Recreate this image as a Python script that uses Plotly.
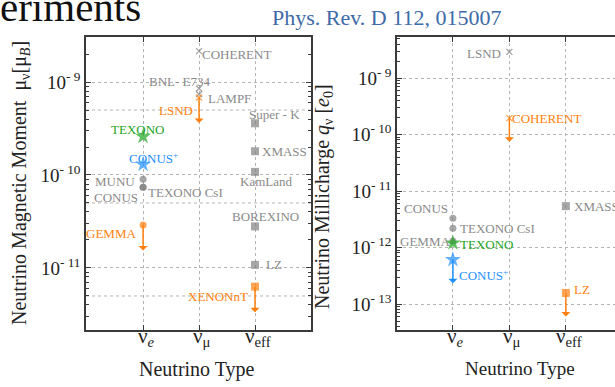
import math
import plotly.graph_objects as go

W, H = 615, 387
FONT = "Liberation Serif, Times New Roman, serif"

# ---------------- data ----------------
flavor_labels = ["ν<sub><i>e</i></sub>", "ν<sub>μ</sub>", "ν<sub>eff</sub>"]
flavor_pos = [1, 2, 3]

# Magnetic moment panel (units of mu_B)
mm_names = ["COHERENT", "BNL- E734", "LAMPF", "LSND", "Super - K", "TEXONO",
            "CONUS<sup>+</sup>", "MUNU", "CONUS", "TEXONO CsI", "GEMMA",
            "XMASS", "KamLand", "BOREXINO", "LZ", "XENONnT"]
mm_flavor = [2, 2, 2, 2, 3, 1, 1, 1, 1, 1, 1, 3, 3, 3, 3, 3]
mm_values = [2.15e-9, 8.5e-10, 7.4e-10, 6.8e-10, 3.6e-10, 2.6e-10,
             1.3e-10, 9.0e-11, 7.4e-11, 7.4e-11, 2.9e-11,
             1.8e-10, 1.08e-10, 2.8e-11, 1.08e-11, 6.3e-12]
mm_style = ["x_grey", "x_grey", "x_grey", "x_orange", "sq_grey", "star_green",
            "star_blue", "circ_grey", "circ_grey", "circ_grey", "circ_orange",
            "sq_grey", "sq_grey", "sq_grey", "sq_grey", "sq_orange"]
mm_limit_arrow = [False, False, False, True, False, False, False, False, False,
                  False, True, False, False, False, False, True]

# Millicharge panel (units of e0)
mc_names = ["LSND", "COHERENT", "CONUS", "TEXONO CsI", "GEMMA", "TEXONO",
            "CONUS<sup>+</sup>", "XMASS", "LZ"]
mc_flavor = [2, 2, 1, 1, 1, 1, 1, 3, 3]
mc_values = [2.9e-9, 1.95e-10, 3.3e-12, 2.2e-12, 1.3e-12, 1.2e-12, 6.1e-13,
             5.4e-12, 1.57e-13]
mc_style = ["x_grey", "x_orange", "circ_grey", "circ_grey", "circ_grey",
            "star_green", "star_blue", "sq_grey", "sq_orange"]
mc_limit_arrow = [False, True, False, False, False, False, True, False, True]

# ---------------- styles ----------------
GREY = "#808080"
LGREY = "#8a8a8a"
ORANGE = "#ff7f0e"
GREEN = "#1ea51e"
BLUE = "#1e8fff"
AX = "#3a3a3a"
GRID = "#b4b4b4"
TXT = "#222222"

STYLE = {
    "x_grey": dict(symbol="x-thin", size=6, color=GREY, lw=1.3, text=LGREY),
    "x_orange": dict(symbol="x-thin", size=6, color=ORANGE, lw=1.3, text=ORANGE),
    "sq_grey": dict(symbol="square", size=8, color=GREY, lw=0, text=LGREY),
    "sq_orange": dict(symbol="square", size=8, color=ORANGE, lw=0, text=ORANGE),
    "circ_grey": dict(symbol="circle", size=7, color=GREY, lw=0, text=LGREY),
    "circ_orange": dict(symbol="circle", size=7, color=ORANGE, lw=0, text=ORANGE),
    "star_green": dict(symbol="star", size=12, color=GREEN, lw=0, text=GREEN),
    "star_blue": dict(symbol="star", size=12, color=BLUE, lw=0, text=BLUE),
}

# label placement (xanchor, xshift, yshift) in pixels relative to marker
mm_label_pos = [("left", 1, -3), ("center", -19, 7), ("left", 7, -4), ("right", -4, -13),
                ("left", -8, 9), ("center", -6, 7), ("center", 10, 6), ("right", -6, -2),
                ("right", -3, -10), ("left", 3, -5), ("right", -5, -9), ("left", 5, 0),
                ("center", 11, -10), ("center", 10, 10), ("left", 9, 0), ("right", -5, -10)]
mc_label_pos = [("right", -6, -2), ("left", 1, 0), ("right", -3, 10), ("left", 5, 0),
                ("right", -1, 0), ("left", 5, -1), ("left", 4, -15), ("left", 6, 0),
                ("left", 6, 3)]


def px(x):
    return x / W


def py(y):
    return 1 - y / H


fig = go.Figure()
annotations = []


def add_panel(names, flav, vals, styles, arrows, labpos, xa, ya, arrow_len):
    st = [STYLE[s] for s in styles]
    fig.add_trace(go.Scatter(
        x=flav, y=vals, mode="markers", xaxis=xa, yaxis=ya, showlegend=False,
        marker=dict(symbol=[s["symbol"] for s in st], size=[s["size"] for s in st],
                    color=[s["color"] for s in st],
                    line=dict(color=[s["color"] for s in st], width=[s["lw"] for s in st])),
        hoverinfo="skip"))
    xr = "x" if xa == "x" else "x2"
    yr = "y" if ya == "y" else "y2"
    for n, f, v, s, a, lp in zip(names, flav, vals, st, arrows, labpos):
        annotations.append(dict(
            x=f, y=math.log10(v), xref=xr, yref=yr, text=n, showarrow=False,
            xanchor=lp[0], yanchor="middle", xshift=lp[1], yshift=lp[2],
            font=dict(family=FONT, size=13, color=s["text"])))
        if a:
            annotations.append(dict(
                x=f, y=math.log10(v), xref=xr, yref=yr, text="", showarrow=True,
                ax=0, ay=arrow_len, axref="pixel", ayref="pixel",
                arrowhead=2, arrowside="start", arrowsize=1.1, arrowwidth=1.5,
                arrowcolor=s["color"], standoff=0, startstandoff=0))
    # flavour tick labels below the axis
    for f, lab in zip(flavor_pos, flavor_labels):
        annotations.append(dict(
            x=f, y=py(322), xref=xr, yref="paper", text=lab, showarrow=False,
            xanchor="center", yanchor="top", xshift=3,
            font=dict(family=FONT, size=21, color=TXT)))


add_panel(mm_names, mm_flavor, mm_values, mm_style, mm_limit_arrow, mm_label_pos, "x", "y", 27)
add_panel(mc_names, mc_flavor, mc_values, mc_style, mc_limit_arrow, mc_label_pos, "x2", "y2", 25)


def minor_vals(lo, hi):
    out = []
    for e in range(lo, hi + 1):
        for m in range(2, 10):
            out.append(m * 10.0 ** e)
    return out


def xaxis(domain, rng):
    return dict(domain=domain, range=rng, tickmode="array", tickvals=flavor_pos,
                showticklabels=False, ticks="inside", ticklen=5, tickwidth=1.3,
                tickcolor=AX, showline=True, linecolor=AX, linewidth=1.5,
                mirror="ticks", showgrid=True, gridcolor=GRID, griddash="dot",
                gridwidth=1, zeroline=False)


def yaxis(domain, rng, exps, mirror, anchor, mlo, mhi):
    return dict(domain=domain, type="log", range=rng, anchor=anchor,
                tickmode="array", tickvals=[10.0 ** e for e in exps],
                ticktext=["10<sup>- %d</sup>" % (-e) for e in exps],
                ticks="inside", ticklen=5, tickwidth=1.3, tickcolor=AX,
                showline=True, linecolor=AX, linewidth=1.5, mirror=mirror,
                showgrid=True, gridcolor=GRID, griddash="dot", gridwidth=1,
                zeroline=False,
                minor=dict(tickmode="array", tickvals=minor_vals(mlo, mhi),
                           ticks="inside", ticklen=3, tickcolor=AX, tickwidth=1,
                           showgrid=False),
                tickfont=dict(family=FONT, size=19, color=TXT))


ydom = [py(330), py(37)]
fig.update_layout(
    width=W, height=H, margin=dict(l=0, r=0, t=0, b=0),
    paper_bgcolor="white", plot_bgcolor="white",
    font=dict(family=FONT),
    xaxis=xaxis([px(86), px(311)], [-0.02, 4.0]) | dict(anchor="y"),
    yaxis=yaxis(ydom, [-11.667, -8.516], [-11, -10, -9], "ticks", "x", -12, -9),
    xaxis2=xaxis([px(397), 1.0], [0.01, 3.87]) | dict(anchor="y2"),
    yaxis2=yaxis(ydom, [-13.46, -8.274], [-13, -12, -11, -10, -9], False, "x2", -14, -9),
)

# extra dotted grid lines at 5 x 10^n on the magnetic-moment panel
for v in [5e-12, 5e-11, 5e-10]:
    fig.add_shape(type="line", xref="x domain", yref="y", x0=0, x1=1, y0=v, y1=v,
                  line=dict(color=GRID, width=1, dash="dot"), layer="below")

# axis titles and page texts
annotations += [
    dict(text="Neutrino Type", xref="paper", yref="paper", x=px(197), y=py(369),
         xanchor="center", yanchor="middle",
         showarrow=False, font=dict(family=FONT, size=20, color=TXT)),
    dict(text="Neutrino Type", xref="paper", yref="paper", x=px(520), y=py(368),
         xanchor="center", yanchor="middle",
         showarrow=False, font=dict(family=FONT, size=19, color=TXT)),
    dict(text="Neutrino Magnetic Moment  μ<sub>ν</sub>[μ<sub><i>B</i></sub>]",
         xref="paper", yref="paper", x=px(21), y=py(183), textangle=-90,
         xanchor="center", yanchor="middle",
         showarrow=False, font=dict(family=FONT, size=20, color=TXT)),
    dict(text="Neutrino Millicharge <i>q</i><sub>ν</sub> [<i>e</i><sub>0</sub>]",
         xref="paper", yref="paper", x=px(323), y=py(196), textangle=-90,
         xanchor="center", yanchor="middle",
         showarrow=False, font=dict(family=FONT, size=20, color=TXT)),
    dict(text="eriments", xref="paper", yref="paper", x=px(-2), y=py(7),
         xanchor="left", yanchor="middle", showarrow=False,
         font=dict(family=FONT, size=41, color="#111")),
    dict(text="Phys. Rev. D 112, 015007", xref="paper", yref="paper", x=px(386), y=py(17),
         xanchor="center", yanchor="middle", showarrow=False,
         font=dict(family=FONT, size=22, color="#3d6aa8")),
]
fig.update_layout(annotations=annotations)

fig.write_html("out.html", config={"displayModeBar": False},
               post_script="document.body.style.margin='0px';")
